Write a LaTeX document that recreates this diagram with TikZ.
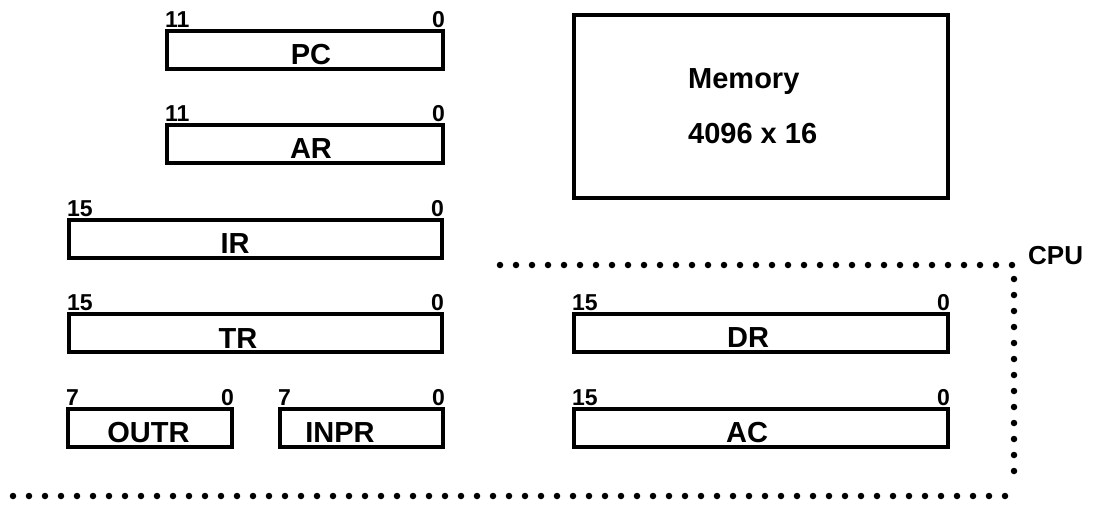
\documentclass[tikz,border=0pt]{standalone}
\usepackage{fontspec}
\setmainfont{Liberation Sans}
\begin{document}
\begin{tikzpicture}[x=1pt,y=-1pt,
  reg/.style={draw=black, line width=4pt, fill=white, inner sep=0pt, outer sep=0pt},
  lbl/.style={inner sep=0pt, anchor=base, font=\fontsize{29}{29}\selectfont\bfseries},
  bitl/.style={inner sep=0pt, anchor=base west, font=\fontsize{23}{23}\selectfont\bfseries},
  bitr/.style={inner sep=0pt, anchor=base east, font=\fontsize{23}{23}\selectfont\bfseries},
  memtxt/.style={inner sep=0pt, anchor=base west, font=\fontsize{29}{29}\selectfont\bfseries},
  dots/.style={line width=6.5pt, line cap=round, dash pattern=on 0pt off 16pt}
]
\useasboundingbox (0,0) rectangle (1097,504);
% registers: (center), width, height
\node[reg, minimum width=276, minimum height=38.5] (pc) at (305,49.75) {};
\node[reg, minimum width=276, minimum height=38] (ar) at (305,144) {};
\node[reg, minimum width=373, minimum height=37.5] (ir) at (255.5,238.75) {};
\node[reg, minimum width=373, minimum height=38] (tr) at (255.5,333) {};
\node[reg, minimum width=164, minimum height=38] (outr) at (150,428) {};
\node[reg, minimum width=163, minimum height=38] (inpr) at (361.5,428) {};
\node[reg, minimum width=374, minimum height=38] (dr) at (761,333) {};
\node[reg, minimum width=374, minimum height=38] (ac) at (761,428) {};
\node[reg, minimum width=374, minimum height=183] (mem) at (761,106) {};
% register names
\node[lbl] (pct) at (311,64) {PC};
\node[lbl] (art) at (311,158) {AR};
\node[lbl] (irt) at (235,253) {IR};
\node[lbl] (trt) at (238,348) {TR};
\node[lbl] (outrt) at (148.5,442) {OUTR};
\node[lbl] (inprt) at (340,442) {INPR};
\node[lbl] (drt) at (748,347) {DR};
\node[lbl] (act) at (747,442) {AC};
% bit numbers
\foreach \r/\h in {pc/11, ar/11, ir/15, tr/15, outr/7, inpr/7, dr/15, ac/15}{
  \node[bitl] (\r h) at ([shift={(-2pt,3.5pt)}]\r.north west) {\h};
  \node[bitr] (\r l) at ([shift={(2pt,3.5pt)}]\r.north east) {0};
}
% memory text
\node[memtxt] (m1) at (688,88) {Memory};
\node[memtxt] (m2) at (688,143) {4096 x 16};
% CPU boundary
\coordinate (c1) at (500,265);
\coordinate (c2) at (1014,265);
\coordinate (c3) at (1014,480);
\coordinate (c4) at (13,496);
\coordinate (c5) at (1010,496);
\draw[dots] (c1) -- (c2) -- (c3);
\draw[dots] (c4) -- (c5);
\node[inner sep=0pt, anchor=base west, font=\fontsize{26}{26}\selectfont\bfseries] (cpu) at (1028,264) {CPU};
\end{tikzpicture}
\end{document}
